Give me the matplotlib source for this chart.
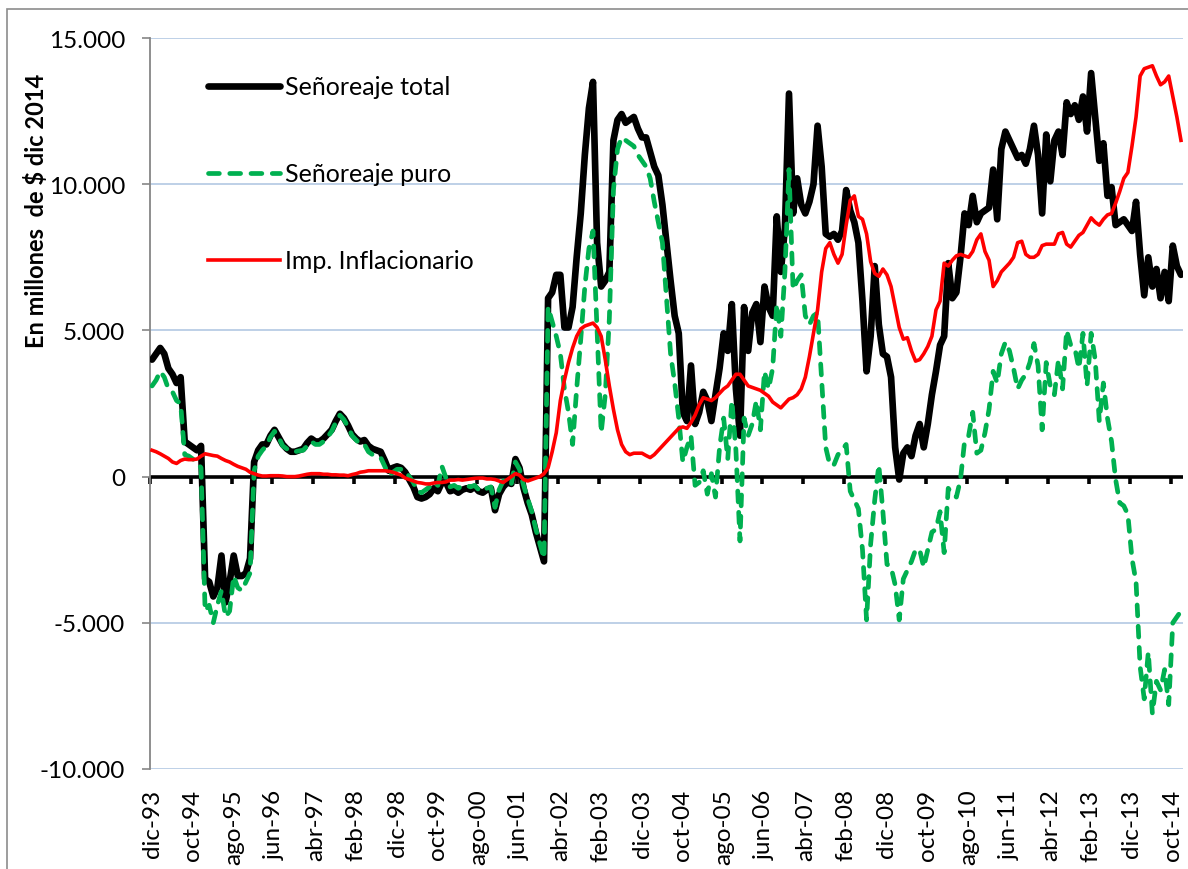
import numpy as np
import matplotlib
matplotlib.use('Agg')
import matplotlib.pyplot as plt
from matplotlib.patches import Rectangle
from matplotlib.ticker import FuncFormatter

plt.rcParams['font.family'] = ['Lato', 'DejaVu Sans']

# meses: dic-93 ... dic-14
abrev = ['ene', 'feb', 'mar', 'abr', 'may', 'jun', 'jul', 'ago', 'sep', 'oct', 'nov', 'dic']
meses = []
for k in range(253):
    m = (11 + k) % 12
    a = (1993 + (11 + k) // 12) % 100
    meses.append(f"{abrev[m]}-{a:02d}")

# valores en miles de millones de $ dic 2014
senoreaje_total = [
    4.0, 4.2, 4.4, 4.2, 3.7, 3.5, 3.2, 3.4, 1.2, 1.1,
    1.0, 0.9, 1.05, -3.5, -3.6, -4.1, -3.8, -2.7, -4.3, -3.6,
    -2.7, -3.4, -3.4, -3.3, -2.8, 0.5, 0.9, 1.1, 1.1, 1.4,
    1.6, 1.35, 1.1, 0.95, 0.85, 0.85, 0.9, 0.95, 1.15, 1.3,
    1.2, 1.2, 1.3, 1.45, 1.6, 1.9, 2.15, 2.0, 1.75, 1.45,
    1.3, 1.2, 1.25, 1.05, 0.95, 0.9, 0.85, 0.55, 0.2, 0.3,
    0.35, 0.3, 0.15, -0.1, -0.35, -0.7, -0.75, -0.7, -0.6, -0.4,
    -0.5, -0.2, -0.2, -0.5, -0.45, -0.55, -0.45, -0.4, -0.45, -0.35,
    -0.5, -0.55, -0.45, -0.4, -1.15, -0.6, -0.35, -0.2, -0.25, 0.6,
    0.3, -0.4, -0.9, -1.3, -1.9, -2.4, -2.9, 6.1, 6.3, 6.9,
    6.9, 5.1, 5.1, 5.8, 7.5, 9.0, 11.0, 12.6, 13.5, 8.0,
    6.5, 6.7, 7.0, 11.5, 12.2, 12.4, 12.1, 12.2, 12.3, 11.9,
    11.6, 11.6, 11.1, 10.6, 10.3, 9.3, 8.0, 6.7, 5.5, 4.9,
    2.2, 1.9, 3.8, 1.8, 2.2, 2.9, 2.6, 1.9, 2.8, 3.7,
    4.9, 4.3, 5.9, 3.0, 1.4, 5.8, 4.3, 5.6, 5.9, 4.6,
    6.5, 5.8, 5.5, 8.9, 7.0, 8.5, 13.1, 9.0, 10.2, 9.3,
    9.0, 9.4, 10.0, 12.0, 10.6, 8.3, 8.2, 8.3, 8.1, 8.4,
    9.8, 9.1, 8.7, 8.0, 6.0, 3.6, 4.8, 7.2, 5.2, 4.2,
    4.1, 3.4, 1.0, -0.1, 0.8, 1.0, 0.7, 1.4, 1.8, 1.0,
    1.8, 2.8, 3.6, 4.5, 4.8, 7.3, 6.1, 6.3, 7.5, 9.0,
    8.6, 9.6, 8.7, 9.0, 9.1, 9.2, 10.5, 8.8, 11.2, 11.8,
    11.5, 11.2, 10.9, 11.0, 10.7, 11.2, 12.0, 11.0, 9.0, 11.7,
    10.1, 11.5, 11.8, 11.0, 12.8, 12.4, 12.7, 12.2, 13.0, 11.8,
    13.8, 12.3, 10.8, 11.4, 9.6, 9.9, 8.6, 8.7, 8.8, 8.6,
    8.4, 9.4, 7.6, 6.2, 7.5, 6.5, 7.1, 6.1, 7.0, 6.0,
    7.9, 7.2, 6.9,
]

senoreaje_puro = [
    3.1, 3.3, 3.6, 3.4, 3.0, 2.9, 2.6, 2.5, 0.75, 0.7,
    0.6, 0.5, 0.3, -4.6, -4.4, -5.0, -4.4, -3.9, -4.8, -4.6,
    -3.4, -3.8, -3.9, -3.6, -3.3, 0.2, 0.7, 0.9, 1.05, 1.35,
    1.55, 1.35, 1.05, 0.95, 0.85, 0.85, 0.88, 0.9, 1.05, 1.2,
    1.1, 1.1, 1.2, 1.35, 1.55, 1.85, 2.1, 1.95, 1.7, 1.4,
    1.25, 1.1, 1.1, 0.85, 0.75, 0.7, 0.65, 0.35, 0.05, 0.15,
    0.25, 0.25, 0.2, 0.0, -0.2, -0.5, -0.55, -0.45, -0.35, -0.2,
    -0.3, 0.35, -0.05, -0.35, -0.3, -0.4, -0.3, -0.3, -0.35, -0.3,
    -0.45, -0.5, -0.4, -0.35, -1.05, -0.45, -0.15, -0.1, -0.25, 0.5,
    0.25, -0.3, -0.75, -1.2, -1.8, -2.3, -2.8, 5.8, 5.3, 4.8,
    4.2, 3.0, 2.2, 1.1, 3.0, 4.7, 6.5, 7.8, 8.4, 5.0,
    1.5, 2.8, 5.4, 9.8, 11.2, 11.6, 11.5, 11.4, 11.3, 11.0,
    10.8, 10.6, 10.2, 9.4, 8.7, 8.0, 6.1, 4.2, 3.2, 2.0,
    0.5, 1.0, 1.4, -0.3, -0.2, 0.2, -0.6, 0.1, -0.7, 1.0,
    2.0, 0.6, 2.6, 0.9, -2.2, 2.0, 1.4, 1.8, 2.6, 1.6,
    3.6, 3.0, 3.7, 5.9, 4.8, 7.0, 10.5, 6.4, 6.7, 6.9,
    5.5, 5.2, 5.5, 5.6, 3.3, 1.0, 0.4, 0.4, 0.75, 0.9,
    1.1, -0.5, -0.8, -1.1, -2.5, -4.9, -2.3, -0.8, 0.4, -1.2,
    -3.0, -3.1, -3.7, -4.9, -3.5, -3.2, -2.9, -2.5, -2.5, -3.1,
    -2.5, -1.9, -1.8, -1.2, -2.6, -0.4, -0.6, -0.7, -0.1, 1.2,
    1.4, 2.2, 0.8, 0.9, 1.5, 2.3, 3.6, 3.2, 4.2, 4.6,
    4.3, 3.7, 3.0, 3.3, 3.5, 3.9, 4.55, 3.8, 1.6, 3.9,
    3.1, 2.8, 4.0, 3.0, 5.0, 4.5, 4.4, 3.7, 4.9, 3.1,
    4.9, 4.0, 1.9, 3.2, 2.0, 1.2, -0.1, -0.9, -1.0, -1.3,
    -2.8, -3.6, -6.5, -7.6, -6.0, -8.1, -7.0, -7.3, -6.6, -7.8,
    -5.0, -4.8, -4.6,
]

imp_inflacionario = [
    0.9, 0.85, 0.78, 0.7, 0.62, 0.5, 0.45, 0.55, 0.6, 0.58,
    0.58, 0.6, 0.7, 0.78, 0.75, 0.72, 0.7, 0.62, 0.55, 0.5,
    0.42, 0.35, 0.3, 0.25, 0.15, 0.1, 0.05, 0.02, 0.02, 0.03,
    0.03, 0.03, 0.02, 0.0, 0.0, 0.0, 0.02, 0.05, 0.08, 0.1,
    0.1, 0.1, 0.08, 0.08, 0.06, 0.06, 0.05, 0.05, 0.03, 0.07,
    0.1, 0.15, 0.17, 0.2, 0.2, 0.2, 0.2, 0.2, 0.18, 0.15,
    0.1, 0.05, -0.05, -0.1, -0.15, -0.2, -0.22, -0.25, -0.25, -0.22,
    -0.2, -0.2, -0.18, -0.12, -0.12, -0.1, -0.12, -0.1, -0.08, -0.06,
    -0.05, -0.05, -0.08, -0.08, -0.1, -0.15, -0.2, -0.1, 0.0, 0.1,
    0.05, -0.1, -0.15, -0.1, -0.05, 0.0, 0.1, 0.3, 0.85, 1.5,
    2.6, 3.3, 3.9, 4.4, 4.8, 5.05, 5.15, 5.2, 5.25, 5.1,
    4.8, 4.0, 3.1, 2.3, 1.6, 1.1, 0.85, 0.75, 0.8, 0.8,
    0.8, 0.72, 0.65, 0.75, 0.9, 1.05, 1.2, 1.35, 1.5, 1.65,
    1.7, 1.65, 1.85, 2.1, 2.45, 2.7, 2.65, 2.6, 2.7, 2.85,
    3.0, 3.1, 3.3, 3.5, 3.5, 3.3, 3.1, 3.05, 3.0, 2.95,
    2.85, 2.75, 2.55, 2.45, 2.35, 2.5, 2.65, 2.7, 2.8, 3.0,
    3.4, 4.1, 4.9, 5.7, 7.0, 7.8, 8.0, 7.6, 7.3, 7.6,
    8.6, 9.45, 9.6, 8.9, 8.8, 8.3, 7.35, 6.95, 6.85, 7.1,
    6.9, 6.5, 5.8, 5.1, 4.7, 4.75, 4.3, 3.95, 4.0, 4.2,
    4.45, 4.8, 5.7, 6.0, 7.3, 7.2, 7.4, 7.55, 7.6, 7.55,
    7.5, 7.7, 8.1, 8.3, 7.7, 7.4, 6.5, 6.7, 7.0, 7.15,
    7.3, 7.5, 8.0, 8.05, 7.6, 7.5, 7.5, 7.6, 7.9, 7.95,
    7.95, 7.95, 8.3, 8.35, 7.95, 7.85, 8.05, 8.25, 8.35, 8.6,
    8.85, 8.7, 8.6, 8.8, 8.95, 9.0, 9.35, 9.75, 10.2, 10.4,
    11.3, 12.3, 13.7, 13.95, 14.0, 14.05, 13.7, 13.4, 13.5, 13.7,
    13.0, 12.3, 11.5,
]

x = np.arange(len(meses))
total = np.array(senoreaje_total) * 1000
puro = np.array(senoreaje_puro) * 1000
imp = np.array(imp_inflacionario) * 1000

fig = plt.figure(figsize=(11.88, 8.70), dpi=100)
ax = fig.add_axes([150 / 1188, 1 - 770 / 870, 1033 / 1188, 731 / 870])

# borde del area del grafico (estilo Excel)
fig.patches.append(Rectangle((7 / 1188, -0.1), 1.2, 1 - 10 / 870 + 0.1,
                             transform=fig.transFigure, fill=False,
                             edgecolor='#8c8c8c', lw=1.2))

ax.axhline(0, color='black', lw=2.6, zorder=1.5)

l1, = ax.plot(x, total, color='black', lw=4.8, solid_joinstyle='round',
              solid_capstyle='round', zorder=3, label='Señoreaje total')
l2, = ax.plot(x, puro, color='#00b050', lw=3.4, linestyle=(0, (2.3, 2.2)),
              dash_capstyle='round', dash_joinstyle='round', zorder=4,
              label='Señoreaje puro')
l3, = ax.plot(x, imp, color='#ff0000', lw=2.6, solid_joinstyle='round',
              zorder=5, label='Imp. Inflacionario')

ax.set_xlim(-0.5, len(meses) - 0.5)
ax.set_ylim(-10000, 15000)
ax.set_yticks(np.arange(-10000, 15001, 5000))
ax.yaxis.set_major_formatter(FuncFormatter(lambda v, p: f"{v:,.0f}".replace(',', '.')))
ax.yaxis.grid(True, color='#b9cde5', lw=1.3)
ax.set_axisbelow(True)

ax.set_xticks(x[::10])
ax.set_xticklabels(meses[::10], rotation=90)
ax.tick_params(axis='x', length=0, pad=14, labelsize=17.5)
ax.tick_params(axis='y', length=6, width=1.2, color='#868686', pad=12, labelsize=17.5)

for s in ['top', 'right', 'bottom']:
    ax.spines[s].set_visible(False)
ax.spines['left'].set_color('#868686')
ax.spines['left'].set_linewidth(1.3)

# marcas del eje de categorias sobre la linea del cero
sec = ax.secondary_xaxis(0.4)
sec.set_xticks(np.arange(-0.5, len(meses), 10))
sec.tick_params(axis='x', length=5, width=2.6, color='black', labelbottom=False)
sec.spines['bottom'].set_visible(False)

fig.text(36 / 1188, 1 - 211 / 870, 'En millones  de $ dic 2014', rotation=90,
         ha='center', va='center', fontsize=17, fontweight='bold')

ax.legend(handles=[l1, l2, l3], loc='upper left', bbox_to_anchor=(0.056, 0.949),
          frameon=False, fontsize=18, handlelength=2.9, handletextpad=0.2,
          labelspacing=2.56, borderpad=0, borderaxespad=0)

fig.savefig('out.png', dpi=100)
